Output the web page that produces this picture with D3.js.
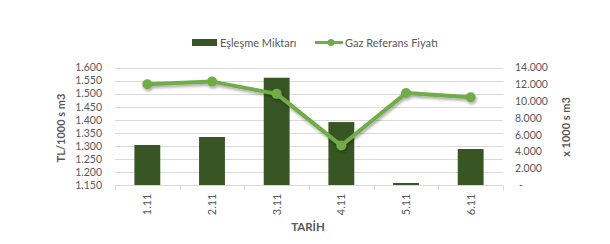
<!DOCTYPE html>
<html>
<head>
<meta charset="utf-8">
<script src="https://cdn.jsdelivr.net/npm/d3@7"></script>
<style>
  body { margin: 0; background: #fff; }
  text { font-family: Lato, "Open Sans", "Liberation Sans", sans-serif; }
</style>
</head>
<body>
<svg id="chart" width="610" height="244"></svg>
<script>
// data
var dates = ["1.11", "2.11", "3.11", "4.11", "5.11", "6.11"];
var matched = [4770, 5720, 12780, 7500, 240, 4290];      // Eşleşme Miktarı, x1000 sm3
var refPrice = [1536, 1546, 1499, 1301, 1502, 1486];     // Gaz Referans Fiyatı, TL/1000 sm3
var leftDomain = [1150, 1600];
var rightDomain = [0, 14000];

var barColor = "#375623", lineColor = "#70ad47", textColor = "#595959", gridColor = "#d9d9d9";

var trLocale = d3.formatLocale({decimal: ",", thousands: ".", grouping: [3], currency: ["", " TL"]});
var fmt = trLocale.format(",.0f");

var svg = d3.select("#chart");
var plotL = 115, plotR = 503, plotT = 67.5, plotB = 185;

var x = d3.scaleBand().domain(dates).range([plotL, plotR]).paddingInner(0.6).paddingOuter(0.3);
var xc = d3.scaleBand().domain(dates).range([plotL, plotR]);
var yL = d3.scaleLinear().domain(leftDomain).range([plotB, plotT]);
var yR = d3.scaleLinear().domain(rightDomain).range([plotB, plotT]);

var defs = svg.append("defs");
defs.append("filter").attr("id", "shadow").attr("x", "-20%").attr("y", "-20%").attr("width", "140%").attr("height", "160%")
  .append("feDropShadow").attr("dx", 1).attr("dy", 2).attr("stdDeviation", 1.5)
  .attr("flood-color", "#000").attr("flood-opacity", 0.35);

// gridlines follow the left axis
svg.append("g").selectAll("line").data(yL.ticks(10).filter(function(d){ return d > leftDomain[0]; }))
  .join("line")
  .attr("x1", plotL).attr("x2", plotR)
  .attr("y1", function(d){ return Math.round(yL(d)) + 0.5; })
  .attr("y2", function(d){ return Math.round(yL(d)) + 0.5; })
  .style("stroke", gridColor).style("stroke-width", 1);

// left axis labels
var gL = svg.append("g").attr("transform", "translate(102,0)")
  .call(d3.axisLeft(yL).ticks(10).tickSize(0).tickPadding(0).tickFormat(fmt));
gL.select(".domain").remove();
gL.selectAll("text").style("fill", textColor).style("font-size", "10.5px").style("font-family", "Lato");

// right axis labels
var gR = svg.append("g").attr("transform", "translate(515,0)")
  .call(d3.axisRight(yR).ticks(7).tickSize(0).tickPadding(0)
    .tickFormat(function(d){ return d === 0 ? "-" : fmt(d); }));
gR.select(".domain").remove();
gR.selectAll("text").style("fill", textColor).style("font-size", "10.5px").style("font-family", "Lato")
  .attr("dx", function(d){ return d === 0 ? 4 : 0; });

// category axis
var gX = svg.append("g").attr("transform", "translate(0," + (plotB + 0.5) + ")");
gX.append("line").attr("x1", plotL).attr("x2", plotR).style("stroke", gridColor);
gX.selectAll(".tk").data(dates.concat(["end"])).join("line").attr("class", "tk")
  .attr("x1", function(d, i){ return Math.round(plotL + i * xc.bandwidth()) + 0.5; })
  .attr("x2", function(d, i){ return Math.round(plotL + i * xc.bandwidth()) + 0.5; })
  .attr("y1", 0).attr("y2", 5).style("stroke", gridColor);
gX.selectAll(".lbl").data(dates).join("text").attr("class", "lbl")
  .attr("transform", function(d){ return "translate(" + (xc(d) + xc.bandwidth() / 2 + 4) + ",8) rotate(-90)"; })
  .attr("text-anchor", "end")
  .style("fill", textColor).style("font-size", "11px")
  .text(function(d){ return d; });

// bars
svg.append("g").selectAll("rect").data(matched).join("rect")
  .attr("x", function(d, i){ return x(dates[i]); })
  .attr("width", x.bandwidth())
  .attr("y", function(d){ return yR(d); })
  .attr("height", function(d){ return plotB - yR(d); })
  .style("fill", barColor);

// line
var line = d3.line()
  .x(function(d, i){ return xc(dates[i]) + xc.bandwidth() / 2; })
  .y(function(d){ return yL(d); });
var gLine = svg.append("g").attr("filter", "url(#shadow)");
gLine.append("path").datum(refPrice).attr("d", line)
  .style("fill", "none").style("stroke", lineColor).style("stroke-width", 4).style("stroke-linejoin", "round");
gLine.selectAll("circle").data(refPrice).join("circle")
  .attr("cx", function(d, i){ return xc(dates[i]) + xc.bandwidth() / 2; })
  .attr("cy", function(d){ return yL(d); })
  .attr("r", 5)
  .style("fill", lineColor);

// axis titles
svg.append("text").attr("transform", "translate(65,128) rotate(-90)")
  .attr("text-anchor", "middle").style("font-weight", "bold").style("font-size", "11px").style("fill", textColor)
  .text("TL/1000 s m3");
svg.append("text").attr("transform", "translate(570,127) rotate(-90)")
  .attr("text-anchor", "middle").style("font-weight", "bold").style("font-size", "11px").style("fill", textColor)
  .text("x 1000 s m3");
svg.append("text").attr("x", 308).attr("y", 231)
  .attr("text-anchor", "middle").style("font-weight", "bold").style("font-size", "11.5px").style("fill", textColor)
  .text("TARİH");

// legend
var lg = svg.append("g");
lg.append("rect").attr("x", 192).attr("y", 39).attr("width", 25).attr("height", 7).style("fill", barColor);
lg.append("text").attr("x", 220).attr("y", 46.5).style("font-size", "11px").style("fill", textColor).text("Eşleşme Miktarı");
lg.append("line").attr("x1", 315).attr("x2", 343).attr("y1", 42.5).attr("y2", 42.5)
  .style("stroke", lineColor).style("stroke-width", 3);
lg.append("circle").attr("cx", 331).attr("cy", 42.5).attr("r", 3.5).style("fill", lineColor);
lg.append("text").attr("x", 345).attr("y", 46.5).style("font-size", "11px").style("fill", textColor).text("Gaz Referans Fiyatı");
</script>
</body>
</html>
